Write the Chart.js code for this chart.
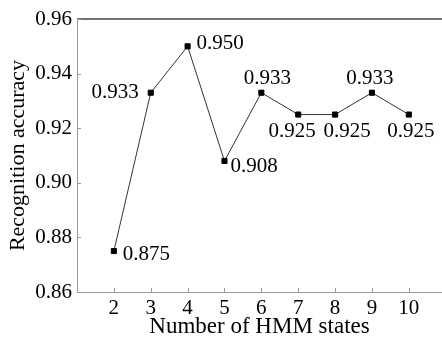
<!DOCTYPE html>
<html>
<head>
<meta charset="utf-8">
<script src="https://cdn.jsdelivr.net/npm/chart.js@4.4.1/dist/chart.umd.min.js"></script>
<style>
  html, body { margin: 0; padding: 0; background: #fff; }
  #wrap { width: 442px; height: 338px; position: relative; }
</style>
</head>
<body>
<div id="wrap"><canvas id="c" width="442" height="338"></canvas></div>
<script>
// ---- data ----
const hmmStates = [2, 3, 4, 5, 6, 7, 8, 9, 10];
const accuracy = [0.875, 0.933, 0.950, 0.908, 0.933, 0.925, 0.925, 0.933, 0.925];
const yTicks = [0.86, 0.88, 0.90, 0.92, 0.94, 0.96];
const xTitle = 'Number of HMM states';
const yTitle = 'Recognition accuracy';

// ---- label placement (style only) ----
const labelPlacement = [
  { align: 'left',   dx: 9,  dy: 3 },
  { align: 'right',  dx: -12, dy: 0 },
  { align: 'left',   dx: 9,  dy: -3 },
  { align: 'left',   dx: 6,  dy: 6 },
  { align: 'center', dx: 6,  dy: -14 },
  { align: 'center', dx: -6, dy: 17 },
  { align: 'center', dx: 12, dy: 17 },
  { align: 'center', dx: -2, dy: -14 },
  { align: 'center', dx: 2,  dy: 17 }
];

const FONT = "'Liberation Serif', 'Times New Roman', serif";

const labelPlugin = {
  id: 'valueLabels',
  afterDatasetsDraw(chart) {
    const ctx = chart.ctx;
    const meta = chart.getDatasetMeta(0);
    ctx.save();
    ctx.font = '21px ' + FONT;
    ctx.fillStyle = '#000';
    ctx.textBaseline = 'middle';
    meta.data.forEach((pt, i) => {
      const p = labelPlacement[i];
      ctx.textAlign = p.align;
      ctx.fillText(accuracy[i].toFixed(3), pt.x + p.dx, pt.y + p.dy);
    });
    ctx.restore();
  }
};

const framePlugin = {
  id: 'frame',
  afterDraw(chart) {
    const ctx = chart.ctx;
    const a = chart.chartArea;
    ctx.save();
    ctx.strokeStyle = '#444';
    ctx.lineWidth = 1.3;
    ctx.beginPath();
    ctx.moveTo(a.left, a.top);
    ctx.lineTo(chart.width, a.top);
    ctx.stroke();
    ctx.strokeStyle = '#999';
    ctx.lineWidth = 1;
    const xs = chart.scales.x, ys = chart.scales.y;
    xs.ticks.forEach(t => {
      const x = Math.round(xs.getPixelForValue(t.value)) + 0.5;
      ctx.beginPath();
      ctx.moveTo(x, a.bottom);
      ctx.lineTo(x, a.bottom - 4);
      ctx.stroke();
    });
    ys.ticks.forEach(t => {
      const y = Math.round(ys.getPixelForValue(t.value)) + 0.5;
      ctx.beginPath();
      ctx.moveTo(a.left, y);
      ctx.lineTo(a.left + 4, y);
      ctx.stroke();
    });
    ctx.restore();
  }
};

new Chart(document.getElementById('c'), {
  type: 'line',
  data: {
    datasets: [{
      data: hmmStates.map((s, i) => ({ x: s, y: accuracy[i] })),
      borderColor: '#333',
      borderWidth: 1,
      pointStyle: 'rect',
      pointRadius: 3.6,
      pointBackgroundColor: '#000',
      pointBorderColor: '#000',
      pointBorderWidth: 1,
      tension: 0,
      clip: false
    }]
  },
  options: {
    responsive: false,
    animation: false,
    devicePixelRatio: 1,
    layout: { padding: { top: 19, right: 0, left: 0, bottom: 0 }, autoPadding: false },
    plugins: { legend: { display: false }, tooltip: { enabled: false } },
    scales: {
      x: {
        type: 'linear',
        min: 1,
        max: 10.9,
        afterBuildTicks(scale) { scale.ticks = hmmStates.map(v => ({ value: v })); },
        afterFit(scale) { scale.height = 46; },
        grid: { display: false, drawTicks: false },
        border: { display: true, color: '#999', width: 1 },
        ticks: {
          padding: 4,
          color: '#000',
          font: { family: FONT, size: 21 },
          maxRotation: 0,
          autoSkip: false,
          callback: v => String(v)
        },
        title: {
          display: true,
          text: xTitle,
          color: '#000',
          font: { family: FONT, size: 23, lineHeight: 1.0 },
          padding: { top: 0, bottom: 0 }
        }
      },
      y: {
        min: 0.86,
        max: 0.96,
        afterBuildTicks(scale) { scale.ticks = yTicks.map(v => ({ value: v })); },
        afterFit(scale) { scale.width = 77; },
        grid: { display: false, drawTicks: false },
        border: { display: true, color: '#999', width: 1 },
        ticks: {
          padding: 5,
          color: '#000',
          font: { family: FONT, size: 21 },
          callback: v => Number(v).toFixed(2)
        },
        title: {
          display: true,
          text: yTitle,
          color: '#000',
          font: { family: FONT, size: 22 },
          padding: { top: 5, bottom: 0 }
        }
      }
    }
  },
  plugins: [labelPlugin, framePlugin]
});
</script>
</body>
</html>
